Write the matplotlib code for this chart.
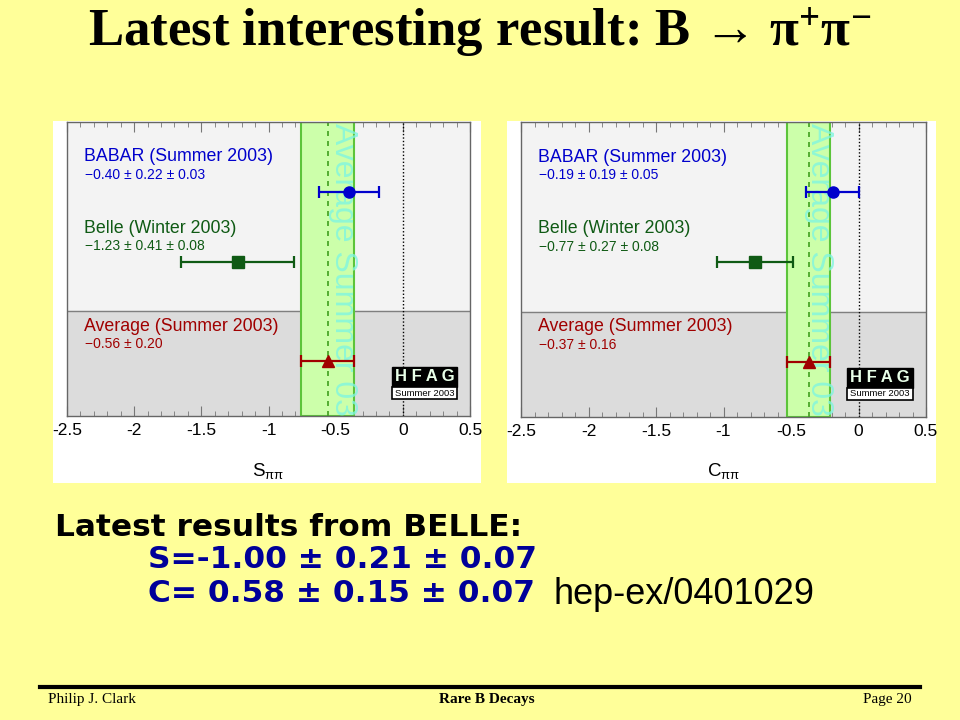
import matplotlib

matplotlib.use("Agg")
import matplotlib.pyplot as plt
import numpy as np
from matplotlib.patches import Rectangle
from matplotlib.ticker import MultipleLocator

W, H = 960, 720
SLIDE_BG = "#FFFF99"

exp_labels = ["BABAR (Summer 2003)", "Belle (Winter 2003)"]
exp_colors = ["#0000CC", "#0F5A14"]
exp_markers = ["o", "s"]

s_values = [-0.40, -1.23]
s_stat = [0.22, 0.41]
s_syst = [0.03, 0.08]
s_avg = -0.56
s_avg_err = 0.20

c_values = [-0.19, -0.77]
c_stat = [0.19, 0.27]
c_syst = [0.05, 0.08]
c_avg = -0.37
c_avg_err = 0.16

x_ticks = [-2.5, -2, -1.5, -1, -0.5, 0, 0.5]
x_tick_labels = ["-2.5", "-2", "-1.5", "-1", "-0.5", "0", "0.5"]

avg_label = "Average (Summer 2003)"
avg_color = "#A00000"


def fig_rect(x0, y0, x1, y1):
    """pixel box (top-left origin) -> figure fraction rect"""
    return [x0 / W, 1 - y1 / H, (x1 - x0) / W, (y1 - y0) / H]


def pm(v):
    return f"{v:.2f}".replace("-", "\u2212")


def draw_panel(fig, box_px, ax_px, values, stat, syst, avg, avg_err, xlabel):
    x0, y0, x1, y1 = box_px
    fig.patches.append(
        Rectangle((x0 / W, 1 - y1 / H), (x1 - x0) / W, (y1 - y0) / H,
                  transform=fig.transFigure, facecolor="white", edgecolor="none", zorder=-5)
    )

    ax = fig.add_axes(fig_rect(*ax_px))
    ax.set_zorder(2)
    ax.set_xlim(-2.5, 0.5)
    ax.set_ylim(0, 1)
    split = 0.357

    ax.axhspan(split, 1, color="#F3F3F3", zorder=0)
    ax.axhspan(0, split, color="#DCDCDC", zorder=0)
    ax.axhline(split, color="#7F7F7F", lw=1.0, zorder=1)

    # average band
    ax.axvspan(avg - avg_err, avg + avg_err, facecolor="#CCFFAA", edgecolor="#5CC43A", lw=1.5, zorder=2)
    ax.axvline(avg, color="#3FA01E", lw=1.2, ls=(0, (3, 3)), zorder=3)
    ax.axvline(0, color="black", lw=1.0, ls=(0, (1, 1.5)), zorder=3)
    ax.text(avg + avg_err - 0.085, 0.995, "Average Summer 03", rotation=-90,
            ha="center", va="top", fontsize=23, color="#80F5E0", alpha=0.8, zorder=3)

    total = np.hypot(stat, syst)
    rows_y = [0.762, 0.524]
    label_y = [0.881, 0.639]
    for i in range(len(values)):
        ax.errorbar(values[i], rows_y[i], xerr=total[i], fmt=exp_markers[i], color=exp_colors[i],
                    ms=8, capsize=4, elinewidth=1.6, capthick=1.6, zorder=5)
        ax.text(0.042, label_y[i], exp_labels[i], transform=ax.transAxes,
                fontsize=12.8, color=exp_colors[i], va="center", ha="left")
        ax.text(0.045, label_y[i] - 0.062,
                f"{pm(values[i])} \u00b1 {stat[i]:.2f} \u00b1 {syst[i]:.2f}",
                transform=ax.transAxes, fontsize=10, color=exp_colors[i], va="center", ha="left")

    ax.errorbar(avg, 0.187, xerr=avg_err, fmt="^", color=avg_color, ms=8,
                capsize=4, elinewidth=1.6, capthick=1.6, zorder=5)
    ax.text(0.042, 0.306, avg_label, transform=ax.transAxes,
            fontsize=12.8, color=avg_color, va="center", ha="left")
    ax.text(0.045, 0.245, f"{pm(avg)} \u00b1 {avg_err:.2f}", transform=ax.transAxes,
            fontsize=10, color=avg_color, va="center", ha="left")

    # HFAG logo
    ax.add_patch(Rectangle((0.806, 0.099), 0.162, 0.068, transform=ax.transAxes,
                           facecolor="black", edgecolor="black", zorder=6))
    ax.add_patch(Rectangle((0.806, 0.058), 0.162, 0.041, transform=ax.transAxes,
                           facecolor="white", edgecolor="black", lw=1.2, zorder=6))
    ax.text(0.887, 0.133, "H F A G", transform=ax.transAxes, ha="center", va="center",
            fontsize=12, fontweight="bold", color="#E8FFE8", zorder=7)
    ax.text(0.887, 0.078, "Summer 2003", transform=ax.transAxes, ha="center", va="center",
            fontsize=6.8, color="black", zorder=7)

    ax.set_yticks([])
    ax.set_xticks(x_ticks, x_tick_labels)
    ax.xaxis.set_minor_locator(MultipleLocator(0.1))
    ax.tick_params(axis="x", which="both", direction="in", top=True, colors="#777777",
                   labelcolor="black", labelsize=12.5, pad=5)
    ax.tick_params(axis="x", which="major", length=7)
    ax.tick_params(axis="x", which="minor", length=3.5)
    for sp in ax.spines.values():
        sp.set_color("#666666")
        sp.set_linewidth(1.0)
        sp.set_zorder(8)

    cx = (ax_px[0] + ax_px[2]) / 2
    fig.text(cx / W, 1 - 471 / H, xlabel, ha="center", va="center", fontsize=13.5)
    return ax


def main():
    plt.rcParams["font.family"] = ["Liberation Sans", "DejaVu Sans"]
    plt.rcParams["axes.unicode_minus"] = False

    fig = plt.figure(figsize=(W / 100, H / 100), dpi=100)
    fig.patch.set_facecolor(SLIDE_BG)

    fig.text(0.5, 1 - 33 / H, "Latest interesting result: B \u2192 $\\mathregular{\\pi^{+}\\pi^{-}}$",
             ha="center", va="center", fontsize=38, fontweight="bold",
             family=["Liberation Serif", "DejaVu Serif"])

    draw_panel(fig, (53, 121, 481, 483), (67, 122, 470, 416),
               s_values, s_stat, s_syst, s_avg, s_avg_err, r"S$\mathregular{_{\pi\pi}}$")
    draw_panel(fig, (507, 121, 936, 483), (521, 122, 926, 417),
               c_values, c_stat, c_syst, c_avg, c_avg_err, r"C$\mathregular{_{\pi\pi}}$")

    bold = dict(fontsize=22.5, fontweight="bold", family=["DejaVu Sans"], va="center", ha="left")
    fig.text(55 / W, 1 - 527 / H, "Latest results from BELLE:", color="black", **bold)
    fig.text(148 / W, 1 - 560 / H, "S=-1.00 \u00b1 0.21 \u00b1 0.07", color="#000099", **bold)
    fig.text(148 / W, 1 - 594 / H, "C= 0.58 \u00b1 0.15 \u00b1 0.07", color="#000099", **bold)
    fig.text(553 / W, 1 - 594 / H, "hep-ex/0401029", color="black", fontsize=26,
             va="center", ha="left")

    # footer
    fig.add_artist(plt.Line2D([40 / W, 920 / W], [1 - 687 / H] * 2, color="black", lw=3,
                              transform=fig.transFigure))
    serif = ["Liberation Serif", "DejaVu Serif"]
    fig.text(48 / W, 1 - 700 / H, "Philip J. Clark", family=serif, fontsize=11, va="center", ha="left")
    fig.text(487 / W, 1 - 700 / H, "Rare B Decays", family=serif, fontsize=11, fontweight="bold",
             va="center", ha="center")
    fig.text(912 / W, 1 - 700 / H, "Page 20", family=serif, fontsize=11, va="center", ha="right")

    fig.savefig("out.png", dpi=100, facecolor=fig.get_facecolor())


if __name__ == "__main__":
    main()
